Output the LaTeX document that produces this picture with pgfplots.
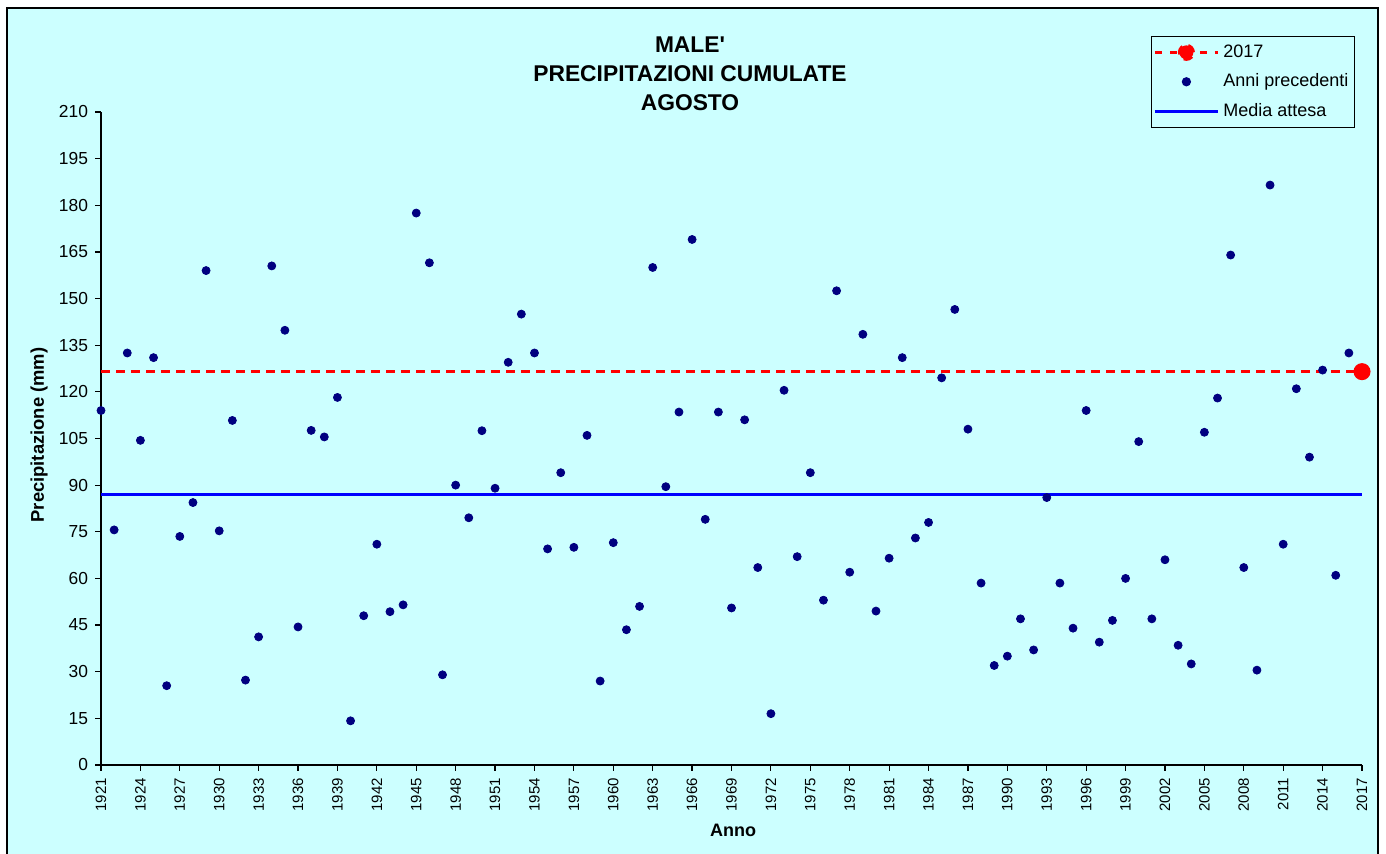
\documentclass[border=0pt]{standalone}
\usepackage{pgfplots}
\usepackage{pgfplotstable}
\pgfplotsset{compat=1.18}
\usepackage{fontspec}
\setmainfont{Liberation Sans}
\definecolor{bgc}{RGB}{204,255,255}
\definecolor{navyc}{RGB}{0,0,128}
\definecolor{mblue}{RGB}{0,0,255}
\definecolor{mred}{RGB}{255,0,0}
\pgfplotstableread{
year val
1921 114
1922 75.6
1923 132.5
1924 104.4
1925 131
1926 25.5
1927 73.5
1928 84.4
1929 159
1930 75.3
1931 110.8
1932 27.3
1933 41.2
1934 160.5
1935 139.8
1936 44.4
1937 107.6
1938 105.5
1939 118.2
1940 14.2
1941 48
1942 71
1943 49.3
1944 51.5
1945 177.5
1946 161.5
1947 29
1948 90
1949 79.5
1950 107.5
1951 89
1952 129.5
1953 145
1954 132.5
1955 69.5
1956 94
1957 70
1958 106
1959 27
1960 71.5
1961 43.5
1962 51
1963 160
1964 89.5
1965 113.5
1966 169
1967 79
1968 113.5
1969 50.5
1970 111
1971 63.5
1972 16.5
1973 120.5
1974 67
1975 94
1976 53
1977 152.5
1978 62
1979 138.5
1980 49.5
1981 66.5
1982 131
1983 73
1984 78
1985 124.5
1986 146.5
1987 108
1988 58.5
1989 32
1990 35
1991 47
1992 37
1993 86
1994 58.5
1995 44
1996 114
1997 39.5
1998 46.5
1999 60
2000 104
2001 47
2002 66
2003 38.5
2004 32.5
2005 107
2006 118
2007 164
2008 63.5
2009 30.5
2010 186.5
2011 71
2012 121
2013 99
2014 127
2015 61
2016 132.5
}\prevyears
\begin{document}
\begin{tikzpicture}[x=1pt,y=1pt]
\path[use as bounding box] (0,0) rectangle (693,427);
\fill[white] (0,0) rectangle (693,427);
\fill[bgc] (3.5,-2) rectangle (689,423);
\draw[black, line width=0.9pt] (3.5,-2) -- (3.5,423) -- (689,423) -- (689,-2);
\node[font=\bfseries\fontsize{11.4}{14.6}\selectfont, align=center, anchor=center] at (345,390) {MALE\textquotesingle\\PRECIPITAZIONI CUMULATE\\AGOSTO};
\node[font=\bfseries\fontsize{9.2}{10}\selectfont, rotate=90] at (19.5,209.5) {Precipitazione (mm)};
\node[font=\bfseries\fontsize{9}{10}\selectfont] at (366.5,12) {Anno};
\begin{axis}[
  at={(50.5pt,44.5pt)}, anchor=south west,
  scale only axis, width=630.5pt, height=326.5pt,
  xmin=1921, xmax=2017, ymin=0, ymax=210,
  axis lines*=left,
  axis line style={-, black, line width=0.8pt},
  tick align=outside,
  major tick length=3pt,
  tick style={black, line width=0.6pt},
  xtick={1921,1924,...,2017},
  ytick={0,15,...,210},
  x tick label style={rotate=90, anchor=east, font=\fontsize{7.5}{9}\selectfont},
  y tick label style={font=\fontsize{8.7}{10}\selectfont},
  /pgf/number format/assume math mode=true,
  /pgf/number format/set thousands separator={},
  clip=false,
  legend style={at={(0.9945,1.1164)}, anchor=north east, draw=black, line width=0.6pt,
    fill=bgc, font=\fontsize{9}{10}\selectfont, inner xsep=1pt, inner ysep=2pt,
    row sep=2.8pt, /tikz/every even column/.append style={column sep=0pt}},
  legend cell align=left,
]
\addplot[mred, line width=1.5pt, dash pattern=on 4.5pt off 3pt, mark=*, mark indices={2},
  mark size=3.5pt, mark options={solid, fill=mred},
  legend image code/.code={
    \draw[mred, line width=1.5pt, dash pattern=on 3.5pt off 4pt] (0pt,0pt) -- (31.5pt,0pt);
    \fill[mred] (15.75pt,0pt) circle (3.5pt);}]
  coordinates {(1921,126.5) (2017,126.5)};
\addlegendentry{2017}
\addplot[only marks, mark=*, mark size=2pt, navyc, mark options={fill=navyc},
  legend image code/.code={\fill[navyc] (15.75pt,0pt) circle (2pt);}]
  table[x=year, y=val] {\prevyears};
\addlegendentry{Anni precedenti}
\addplot[mblue, line width=1.5pt,
  legend image code/.code={\draw[mblue, line width=1.5pt] (0pt,0pt) -- (31.5pt,0pt);}]
  coordinates {(1921,87) (2017,87)};
\addlegendentry{Media attesa}
\end{axis}
\end{tikzpicture}
\end{document}
